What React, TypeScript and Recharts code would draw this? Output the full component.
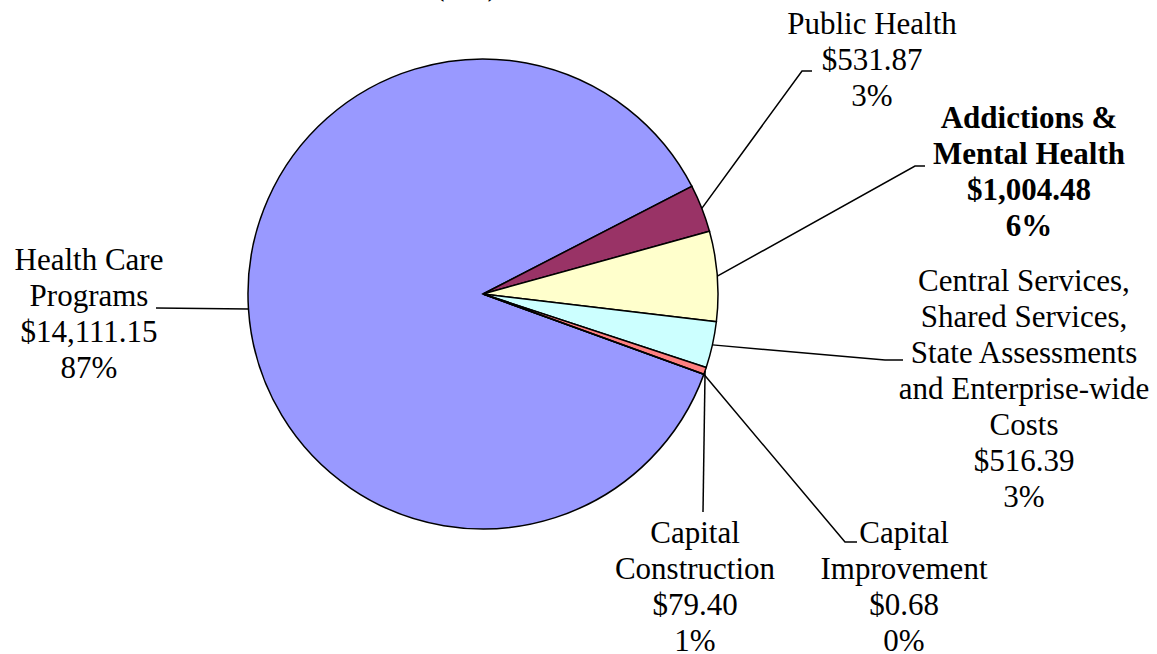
import React from 'react'
import { PieChart, Pie, Cell } from 'recharts'

/* ─── Data ─────────────────────────────────────────────────────── */

const categories = [
  'Health Care Programs',
  'Public Health',
  'Addictions & Mental Health',
  'Central Services, Shared Services, State Assessments and Enterprise-wide Costs',
  'Capital Construction',
  'Capital Improvement',
]

const amounts = [14111.15, 531.87, 1004.48, 516.39, 79.4, 0.68]

const percentLabels = ['87%', '3%', '6%', '3%', '1%', '0%']

const nameLines = [
  ['Health Care', 'Programs'],
  ['Public Health'],
  ['Addictions &', 'Mental Health'],
  ['Central Services,', 'Shared Services,', 'State Assessments', 'and Enterprise-wide', 'Costs'],
  ['Capital', 'Construction'],
  ['Capital', 'Improvement'],
]

const boldLabels = [false, false, true, false, false, false]

const sliceColors = ['#9999FF', '#993366', '#FFFFCC', '#CCFFFF', '#FF8080', '#0066CC']

const chartData = categories.map((name, i) => ({ name, value: amounts[i] }))

/* ─── Layout ───────────────────────────────────────────────────── */

const FONT = '"Liberation Serif", "Times New Roman", "DejaVu Serif", serif'
const FONT_SIZE = 31
const LINE_H = 36

// leader line bend points and label text anchor (x center, first baseline)
const labelLayout = [
  { path: [[156, 308]], tx: 89, ty: 270 },
  { path: [[802, 71], [812, 71]], tx: 872, ty: 34 },
  { path: [[915, 166], [925, 166]], tx: 1029, ty: 128 },
  { path: [[885, 360], [903, 360]], tx: 1024, ty: 291 },
  { path: [[703, 512]], tx: 695, ty: 543 },
  { path: [[845, 542], [857, 542]], tx: 904, ty: 543 },
]

const RAD = Math.PI / 180

const fmtMoney = (v: number) =>
  '$' + v.toLocaleString('en-US', { minimumFractionDigits: 2, maximumFractionDigits: 2 })

function renderLabel(props: any) {
  const { cx, cy, midAngle, outerRadius, index } = props
  const layout = labelLayout[index]
  const sx = cx + outerRadius * Math.cos(-midAngle * RAD)
  const sy = cy + outerRadius * Math.sin(-midAngle * RAD)
  const pts = [[sx, sy], ...layout.path].map((p) => p.join(',')).join(' ')
  const lines = [...nameLines[index], fmtMoney(amounts[index]), percentLabels[index]]

  return (
    <g key={`lbl-${index}`}>
      <polyline points={pts} fill="none" stroke="#000" strokeWidth={1.5} />
      <text
        x={layout.tx}
        y={layout.ty}
        textAnchor="middle"
        style={{
          fontFamily: FONT,
          fontSize: FONT_SIZE,
          fontWeight: boldLabels[index] ? 700 : 400,
        }}
        fill="#000"
      >
        {lines.map((line, j) => (
          <tspan key={j} x={layout.tx} y={layout.ty + j * LINE_H}>
            {line}
          </tspan>
        ))}
      </text>
    </g>
  )
}

export default function App() {
  return (
    <div style={{ width: 1157, height: 654, background: '#fff', fontFamily: FONT }}>
      <style>{'body { margin: 0; }'}</style>
      <PieChart width={1157} height={654} margin={{ top: 0, right: 0, bottom: 0, left: 0 }}>
        {/* title, clipped off the top edge */}
        <text x={466} y={-5} textAnchor="middle" style={{ fontFamily: FONT, fontSize: FONT_SIZE }} fill="#000">
          ($M)
        </text>
        <Pie
          data={chartData}
          dataKey="value"
          nameKey="name"
          cx={483}
          cy={294}
          outerRadius={235}
          startAngle={-20}
          endAngle={-380}
          stroke="#000"
          strokeWidth={1.5}
          label={renderLabel}
          labelLine={false}
          isAnimationActive={false}
        >
          {chartData.map((d, i) => (
            <Cell key={d.name} fill={sliceColors[i]} />
          ))}
        </Pie>
      </PieChart>
    </div>
  )
}
